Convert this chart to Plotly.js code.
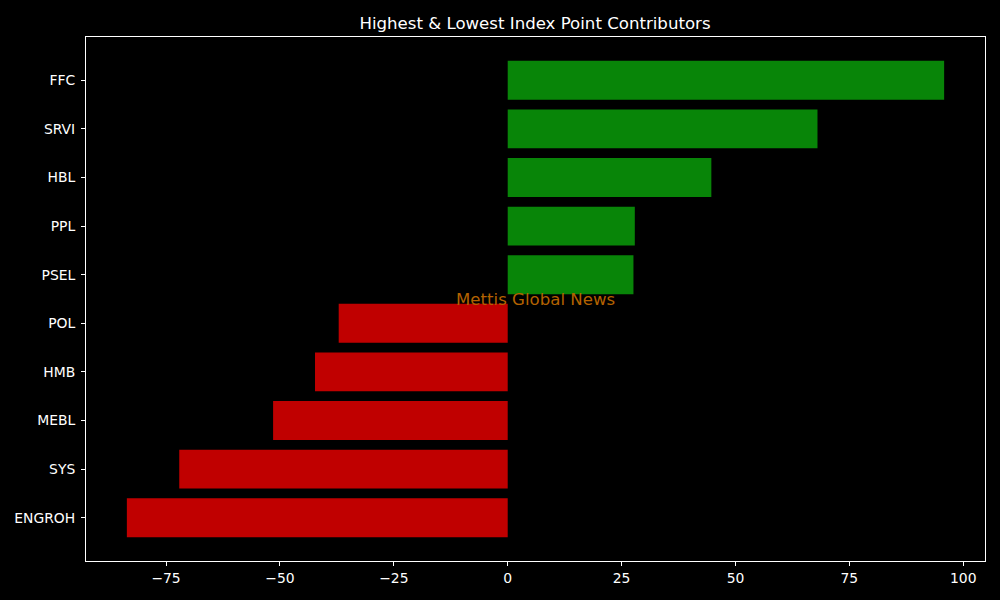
<!DOCTYPE html>
<html><head><meta charset="utf-8">
<script src="https://cdn.plot.ly/plotly-3.0.1.min.js"></script>
<style>body{margin:0;background:#000}</style>
</head><body><div id="chart" style="width:1000px;height:600px"></div>
<script>
const categories = ["FFC","SRVI","HBL","PPL","PSEL","POL","HMB","MEBL","SYS","ENGROH"];
const values = [95.8, 68.0, 44.7, 27.9, 27.6, -37.1, -42.3, -51.5, -72.1, -83.6];
const xTicks = [-75, -50, -25, 0, 25, 50, 75, 100];
const colors = values.map(v => v >= 0 ? "#088508" : "#c00000");

const trace = {
  type: "bar", orientation: "h",
  y: categories, x: values,
  marker: {color: colors, line: {width: 0}},
  width: 0.8, hoverinfo: "skip"
};
const font = {family: "DejaVu Sans, sans-serif", color: "#ffffff", size: 13.9};
const layout = {
  width: 1000, height: 600,
  paper_bgcolor: "#000", plot_bgcolor: "#000",
  margin: {l: 85.5, r: 15, t: 37, b: 39},
  font: font,
  showlegend: false,
  title: {text: "Highest & Lowest Index Point Contributors", x: 0.535, xanchor: "center", y: 0.961, yanchor: "middle", font: {family: "DejaVu Sans, sans-serif", size: 16.6, color: "#fff"}},
  xaxis: {
    range: [-92.57, 104.77], tickvals: xTicks, ticks: "outside", ticklen: 4, tickwidth: 1, tickcolor: "#fff",
    showgrid: false, zeroline: false, showline: true, mirror: true, linecolor: "#fff", linewidth: 1,
    tickfont: font
  },
  yaxis: {
    type: "category", range: [9.89, -0.89], ticks: "outside", ticklen: 4, tickwidth: 1, tickcolor: "#fff",
    showgrid: false, zeroline: false, showline: true, mirror: true, linecolor: "#fff", linewidth: 1,
    tickfont: font, ticklabelstandoff: 3
  },
  annotations: [{
    xref: "paper", yref: "paper", x: 0.5, y: 0.5, xanchor: "center", yanchor: "middle",
    text: "Mettis Global News", showarrow: false,
    font: {family: "DejaVu Sans, sans-serif", size: 16.6, color: "rgb(179,98,0)"}
  }],
  bargap: 0.2
};
Plotly.newPlot("chart", [trace], layout, {displayModeBar: false, staticPlot: true});
</script></body></html>
